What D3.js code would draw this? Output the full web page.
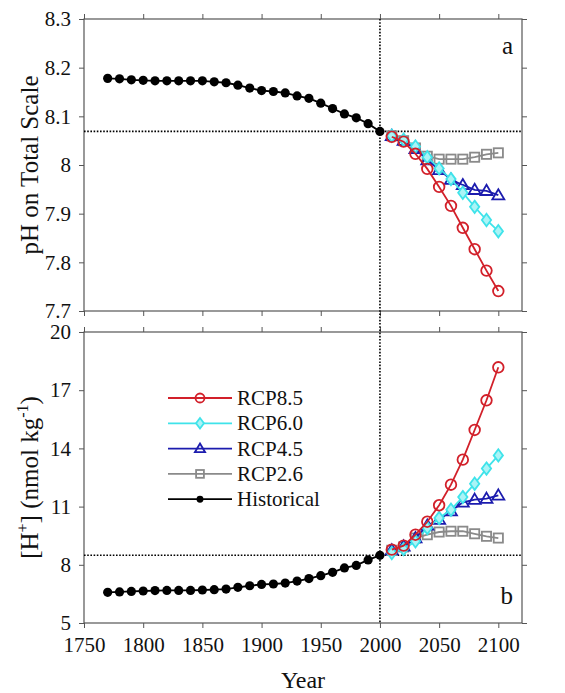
<!DOCTYPE html>
<html>
<head>
<meta charset="utf-8">
<script src="https://cdn.jsdelivr.net/npm/d3@7/dist/d3.min.js"></script>
<style>
  body { margin: 0; background: #fff; }
  svg text { font-family: "Liberation Serif", "DejaVu Serif", "Times New Roman", Times, serif; fill: #111; }
</style>
</head>
<body>
<div id="chart"></div>
<script>
// years
let histYears = [1770, 1780, 1790, 1800, 1810, 1820, 1830, 1840, 1850, 1860, 1870, 1880,
                 1890, 1900, 1910, 1920, 1930, 1940, 1950, 1960, 1970, 1980, 1990, 2000];
let rcpYears = [2010, 2020, 2030, 2040, 2050, 2060, 2070, 2080, 2090, 2100];

// panel a: pH
let phHist = [8.178, 8.177, 8.175, 8.174, 8.173, 8.173, 8.173, 8.173, 8.173, 8.171, 8.169, 8.164,
              8.158, 8.153, 8.151, 8.148, 8.142, 8.137, 8.127, 8.116, 8.105, 8.097, 8.085, 8.069];
let phRcp85 = [8.058, 8.048, 8.023, 7.992, 7.955, 7.916, 7.871, 7.827, 7.783, 7.741];
let phRcp60 = [8.060, 8.052, 8.038, 8.016, 7.993, 7.971, 7.943, 7.914, 7.887, 7.864];
let phRcp45 = [8.060, 8.050, 8.033, 8.010, 7.990, 7.970, 7.959, 7.949, 7.947, 7.938];
let phRcp26 = [8.060, 8.050, 8.035, 8.018, 8.012, 8.012, 8.012, 8.016, 8.022, 8.025];

// panel b: [H+]
let hHist = [6.58, 6.60, 6.63, 6.65, 6.67, 6.68, 6.68, 6.68, 6.70, 6.72, 6.75, 6.84,
             6.92, 6.99, 7.01, 7.06, 7.16, 7.29, 7.44, 7.61, 7.84, 7.97, 8.25, 8.49];
let hRcp85 = [8.78, 8.99, 9.55, 10.22, 11.07, 12.13, 13.42, 14.95, 16.48, 18.18];
let hRcp60 = [8.61, 8.81, 9.21, 9.90, 10.41, 10.84, 11.49, 12.18, 12.96, 13.64];
let hRcp45 = [8.75, 8.95, 9.38, 10.03, 10.33, 10.76, 11.22, 11.36, 11.41, 11.58];
let hRcp26 = [8.75, 8.92, 9.38, 9.55, 9.69, 9.73, 9.73, 9.60, 9.47, 9.38];

let xTicks = [1750, 1800, 1850, 1900, 1950, 2000, 2050, 2100];
let phTicks = [7.7, 7.8, 7.9, 8, 8.1, 8.2, 8.3];
let hTicks = [5, 8, 11, 14, 17, 20];

let refYear = 2000;
let refPh = 8.069;
let refH = 8.49;

let series = [
  {name: "RCP2.6", color: "#8a8a8a", marker: "square", a: phRcp26, b: hRcp26},
  {name: "RCP4.5", color: "#1c1cae", marker: "triangle", a: phRcp45, b: hRcp45},
  {name: "RCP6.0", color: "#3fe3ea", marker: "diamond", a: phRcp60, b: hRcp60},
  {name: "RCP8.5", color: "#d2202a", marker: "circle", a: phRcp85, b: hRcp85}
];
let legendOrder = ["RCP8.5", "RCP6.0", "RCP4.5", "RCP2.6", "Historical"];

let W = 565, H = 693;
let left = 84, right = 522;
let topA = 19, botA = 311;
let topB = 332, botB = 623;
let serif = '"Liberation Serif", "DejaVu Serif", "Times New Roman", Times, serif';

let svg = d3.select("#chart").append("svg")
  .attr("width", W)
  .attr("height", H);

let x = d3.scaleLinear().domain([1750, 2120]).range([left, right]);
let yA = d3.scaleLinear().domain([7.7, 8.3]).range([botA, topA]);
let yB = d3.scaleLinear().domain([5, 20]).range([botB, topB]);

function drawMarker(g, type, cx, cy, color, size) {
  let s = size || 1;
  if (type === "circle") {
    g.append("circle").attr("cx", cx).attr("cy", cy).attr("r", 5.3 * s)
      .attr("fill", "none").attr("stroke", color).attr("stroke-width", 1.8);
  } else if (type === "diamond") {
    let r = 6.2 * s;
    g.append("path")
      .attr("d", `M${cx},${cy - r}L${cx + r * 0.75},${cy}L${cx},${cy + r}L${cx - r * 0.75},${cy}Z`)
      .attr("fill", "#aaf4f6").attr("stroke", color).attr("stroke-width", 1.8);
  } else if (type === "triangle") {
    let r = 6 * s;
    g.append("path")
      .attr("d", `M${cx},${cy - r}L${cx + r},${cy + r * 0.7}L${cx - r},${cy + r * 0.7}Z`)
      .attr("fill", "none").attr("stroke", color).attr("stroke-width", 1.8);
  } else if (type === "square") {
    let r = 4.6 * s;
    g.append("rect").attr("x", cx - r).attr("y", cy - r).attr("width", 2 * r).attr("height", 2 * r)
      .attr("fill", "none").attr("stroke", color).attr("stroke-width", 1.8);
  } else {
    g.append("circle").attr("cx", cx).attr("cy", cy).attr("r", 4.6 * s).attr("fill", "#000");
  }
}

function drawPanel(key, y, yTicks, top, bottom, hist, refVal, label, showX) {
  let g = svg.append("g");

  // ticks on all four sides, pointing out
  g.append("g")
    .attr("transform", "translate(" + left + ",0)")
    .call(d3.axisLeft(y).tickValues(yTicks).tickSize(5).tickSizeOuter(0).tickPadding(8)
      .tickFormat(d3.format("")));
  g.append("g")
    .attr("transform", "translate(" + right + ",0)")
    .call(d3.axisRight(y).tickValues(yTicks).tickSize(5).tickSizeOuter(0).tickFormat(""));
  g.append("g")
    .attr("transform", "translate(0," + top + ")")
    .call(d3.axisTop(x).tickValues(xTicks).tickSize(5).tickSizeOuter(0).tickFormat(""));
  g.append("g")
    .attr("transform", "translate(0," + bottom + ")")
    .call(d3.axisBottom(x).tickValues(xTicks).tickSize(5).tickSizeOuter(0).tickPadding(9)
      .tickFormat(showX ? d3.format("d") : ""));

  g.selectAll("g").attr("font-family", serif);
  g.selectAll(".domain").remove();
  g.selectAll(".tick line").attr("stroke", "#555").attr("stroke-width", 1);
  g.selectAll(".tick text").attr("font-size", 21)
    .attr("font-family", serif).attr("fill", "#111");

  g.append("rect")
    .attr("x", left).attr("y", top)
    .attr("width", right - left).attr("height", bottom - top)
    .attr("fill", "none").attr("stroke", "#555").attr("stroke-width", 1.2);

  // reference line
  g.append("line")
    .attr("x1", left).attr("x2", right)
    .attr("y1", y(refVal)).attr("y2", y(refVal))
    .attr("stroke", "#000").attr("stroke-width", 1.6).attr("stroke-dasharray", "1.6,1.6");

  let line = d3.line().x(d => x(d[0])).y(d => y(d[1]));

  series.forEach(s => {
    let pts = rcpYears.map((yr, i) => [yr, s[key][i]]);
    g.append("path").datum(pts)
      .attr("d", line).attr("fill", "none")
      .attr("stroke", s.color).attr("stroke-width", 1.8);
    let mg = g.append("g");
    pts.forEach(p => drawMarker(mg, s.marker, x(p[0]), y(p[1]), s.color));
  });

  let hp = histYears.map((yr, i) => [yr, hist[i]]);
  g.append("path").datum(hp)
    .attr("d", line).attr("fill", "none")
    .attr("stroke", "#000").attr("stroke-width", 1.8);
  let hg = g.append("g");
  hp.forEach(p => drawMarker(hg, "hist", x(p[0]), y(p[1]), "#000"));

  g.append("text")
    .attr("x", 513).attr("y", label === "a" ? 54 : 604)
    .attr("text-anchor", "end")
    .attr("font-family", serif)
    .attr("font-size", 25)
    .text(label);

  return g;
}

drawPanel("a", yA, phTicks, topA, botA, phHist, refPh, "a", false);
drawPanel("b", yB, hTicks, topB, botB, hHist, refH, "b", true);

// vertical reference line through both panels
svg.append("line")
  .attr("x1", x(refYear)).attr("x2", x(refYear))
  .attr("y1", topA).attr("y2", botB)
  .attr("stroke", "#000").attr("stroke-width", 1.6).attr("stroke-dasharray", "1.6,1.6");

// axis titles
svg.append("text")
  .attr("transform", "translate(38," + ((topA + botA) / 2) + ") rotate(-90)")
  .attr("text-anchor", "middle")
  .attr("font-family", serif)
  .attr("font-size", 25)
  .text("pH on Total Scale");

let hTitle = svg.append("text")
  .attr("transform", "translate(38," + ((topB + botB) / 2) + ") rotate(-90)")
  .attr("text-anchor", "middle")
  .attr("font-family", serif)
  .attr("font-size", 25);
hTitle.append("tspan").text("[H");
hTitle.append("tspan").attr("dy", -10).attr("font-size", 16).text("+");
hTitle.append("tspan").attr("dy", 10).text("] (nmol kg");
hTitle.append("tspan").attr("dy", -10).attr("font-size", 16).text("-1");
hTitle.append("tspan").attr("dy", 10).text(")");

svg.append("text")
  .attr("x", (left + right) / 2).attr("y", 688)
  .attr("text-anchor", "middle")
  .attr("font-family", serif)
  .attr("font-size", 24)
  .text("Year");

// legend
let leg = svg.append("g");
let legItems = legendOrder.map(n => {
  let s = series.find(d => d.name === n);
  return s ? s : {name: "Historical", color: "#000", marker: "hist"};
});
legItems.forEach((s, i) => {
  let ly = 398 + i * 25.3;
  leg.append("line")
    .attr("x1", 168).attr("x2", 232)
    .attr("y1", ly).attr("y2", ly)
    .attr("stroke", s.color).attr("stroke-width", 1.8);
  drawMarker(leg, s.marker, 200, ly, s.color, s.marker === "hist" ? 0.75 : 0.85);
  leg.append("text")
    .attr("x", 237).attr("y", ly + 7)
    .attr("font-family", serif)
    .attr("font-size", 21)
    .text(s.name);
});
</script>
</body>
</html>
